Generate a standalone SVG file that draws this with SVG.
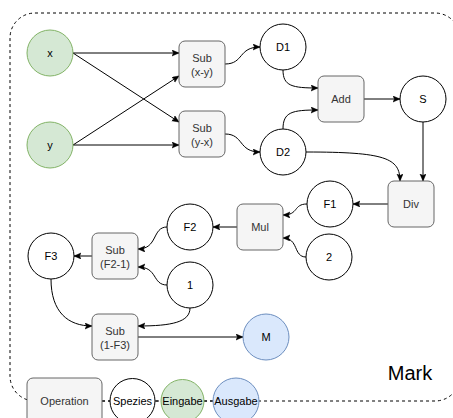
<svg xmlns="http://www.w3.org/2000/svg" width="453" height="418" viewBox="0 0 453 418">
<style>
text{font-family:"Liberation Sans",Arial,Helvetica,sans-serif;font-size:11px;text-anchor:middle;fill:#000}
.op rect{fill:#f5f5f5;stroke:#666666;stroke-width:1}
.op text{fill:#333333}
.sp circle{fill:#ffffff;stroke:#000;stroke-width:1}
.in circle{fill:#d5e8d4;stroke:#82b366;stroke-width:1}
.out circle{fill:#dae8fc;stroke:#6c8ebf;stroke-width:1}
.e{fill:none;stroke:#000;stroke-width:1;marker-end:url(#a)}
.d{fill:none;stroke:#000;stroke-width:1;stroke-dasharray:3 3}
</style>
<defs>
<marker id="a" markerUnits="userSpaceOnUse" markerWidth="8" markerHeight="8" refX="7" refY="3" orient="auto">
<path d="M0,0 L7,3 L0,6 L1.5,3 Z" fill="#000" stroke="#000" stroke-width="0.5"/>
</marker>
</defs>
<g id="container">
<rect class="d" x="10" y="13" width="450" height="388" rx="25" ry="25"/>
<text x="410" y="380" style="font-size:20px">Mark</text>
</g>
<g id="connectors">
<path class="e" d="M73,53 L179,53"/>
<path class="e" d="M73,53 L179,122"/>
<path class="e" d="M73,145 L179,76"/>
<path class="e" d="M73,145 L179,145"/>
<path class="e" d="M225,64 C244,64 238,47 260,47"/>
<path class="e" d="M225,134 C244,134 238,152 260,152"/>
<path class="e" d="M283,70 C283,86 292,88 318,88"/>
<path class="e" d="M283,129 C283,112 292,110 318,110"/>
<path class="e" d="M364,99 L400,99"/>
<path class="e" d="M423,122 L423,181"/>
<path class="e" d="M306,152 C385,152 400,158 400,181"/>
<path class="e" d="M388,204 L353,204"/>
<path class="e" d="M307,204 C293,204 299,215 283,215"/>
<path class="e" d="M306,257 C293,257 299,238 283,238"/>
<path class="e" d="M237,227 L213,227"/>
<path class="e" d="M167,227 C152,227 158,249 138,249"/>
<path class="e" d="M167,285 C152,285 158,267 138,267"/>
<path class="e" d="M92,256 L74,256"/>
<path class="e" d="M51,279 C51,312 68,326 92,326"/>
<path class="e" d="M190,308 C190,322 172,326 138,326"/>
<path class="e" d="M138,337 L243,337"/>
</g>
<g id="x" class="in"><circle cx="50" cy="53" r="23"/><text x="50" y="57">x</text></g>
<g id="y" class="in"><circle cx="50" cy="145" r="23"/><text x="50" y="149">y</text></g>
<g id="sub_xy" class="op"><rect x="179" y="41" width="46" height="46" rx="6"/><text x="202" y="61.5">Sub<tspan x="202" dy="14">(x-y)</tspan></text></g>
<g id="sub_yx" class="op"><rect x="179" y="111" width="46" height="46" rx="6"/><text x="202" y="131.5">Sub<tspan x="202" dy="14">(y-x)</tspan></text></g>
<g id="D1" class="sp"><circle cx="283" cy="47" r="23"/><text x="283" y="51">D1</text></g>
<g id="D2" class="sp"><circle cx="283" cy="152" r="23"/><text x="283" y="156">D2</text></g>
<g id="add" class="op"><rect x="318" y="76" width="46" height="46" rx="6"/><text x="341" y="103">Add</text></g>
<g id="S" class="sp"><circle cx="423" cy="99" r="23"/><text x="423" y="103">S</text></g>
<g id="div" class="op"><rect x="388" y="181" width="46" height="46" rx="6"/><text x="411" y="208">Div</text></g>
<g id="F1" class="sp"><circle cx="330" cy="204" r="23"/><text x="330" y="208">F1</text></g>
<g id="mul" class="op"><rect x="237" y="204" width="46" height="46" rx="6"/><text x="260" y="231">Mul</text></g>
<g id="two" class="sp"><circle cx="329" cy="257" r="23"/><text x="329" y="261">2</text></g>
<g id="F2" class="sp"><circle cx="190" cy="227" r="23"/><text x="190" y="231">F2</text></g>
<g id="sub_f21" class="op"><rect x="92" y="233" width="46" height="46" rx="6"/><text x="115" y="253.5">Sub<tspan x="115" dy="14">(F2-1)</tspan></text></g>
<g id="one" class="sp"><circle cx="190" cy="285" r="23"/><text x="190" y="289">1</text></g>
<g id="F3" class="sp"><circle cx="51" cy="256" r="23"/><text x="51" y="260">F3</text></g>
<g id="sub_1f3" class="op"><rect x="92" y="314" width="46" height="46" rx="6"/><text x="115" y="334.5">Sub<tspan x="115" dy="14">(1-F3)</tspan></text></g>
<g id="M" class="out"><circle cx="266" cy="337" r="23"/><text x="266" y="341">M</text></g>
<g id="legend">
<path class="d" d="M102,401 L110,401 M155,401 L161,401 M204,401 L213,401"/>
<g id="leg_op" class="op"><rect x="27" y="378" width="75" height="46" rx="6"/><text x="64.5" y="405">Operation</text></g>
<g id="leg_sp" class="sp"><circle cx="132.5" cy="401" r="22.5"/><text x="132.5" y="405">Spezies</text></g>
<g id="leg_in" class="in"><circle cx="182.5" cy="401" r="21.5"/><text x="182.5" y="405">Eingabe</text></g>
<g id="leg_out" class="out"><circle cx="236" cy="401" r="23"/><text x="236" y="405">Ausgabe</text></g>
</g>
</svg>
